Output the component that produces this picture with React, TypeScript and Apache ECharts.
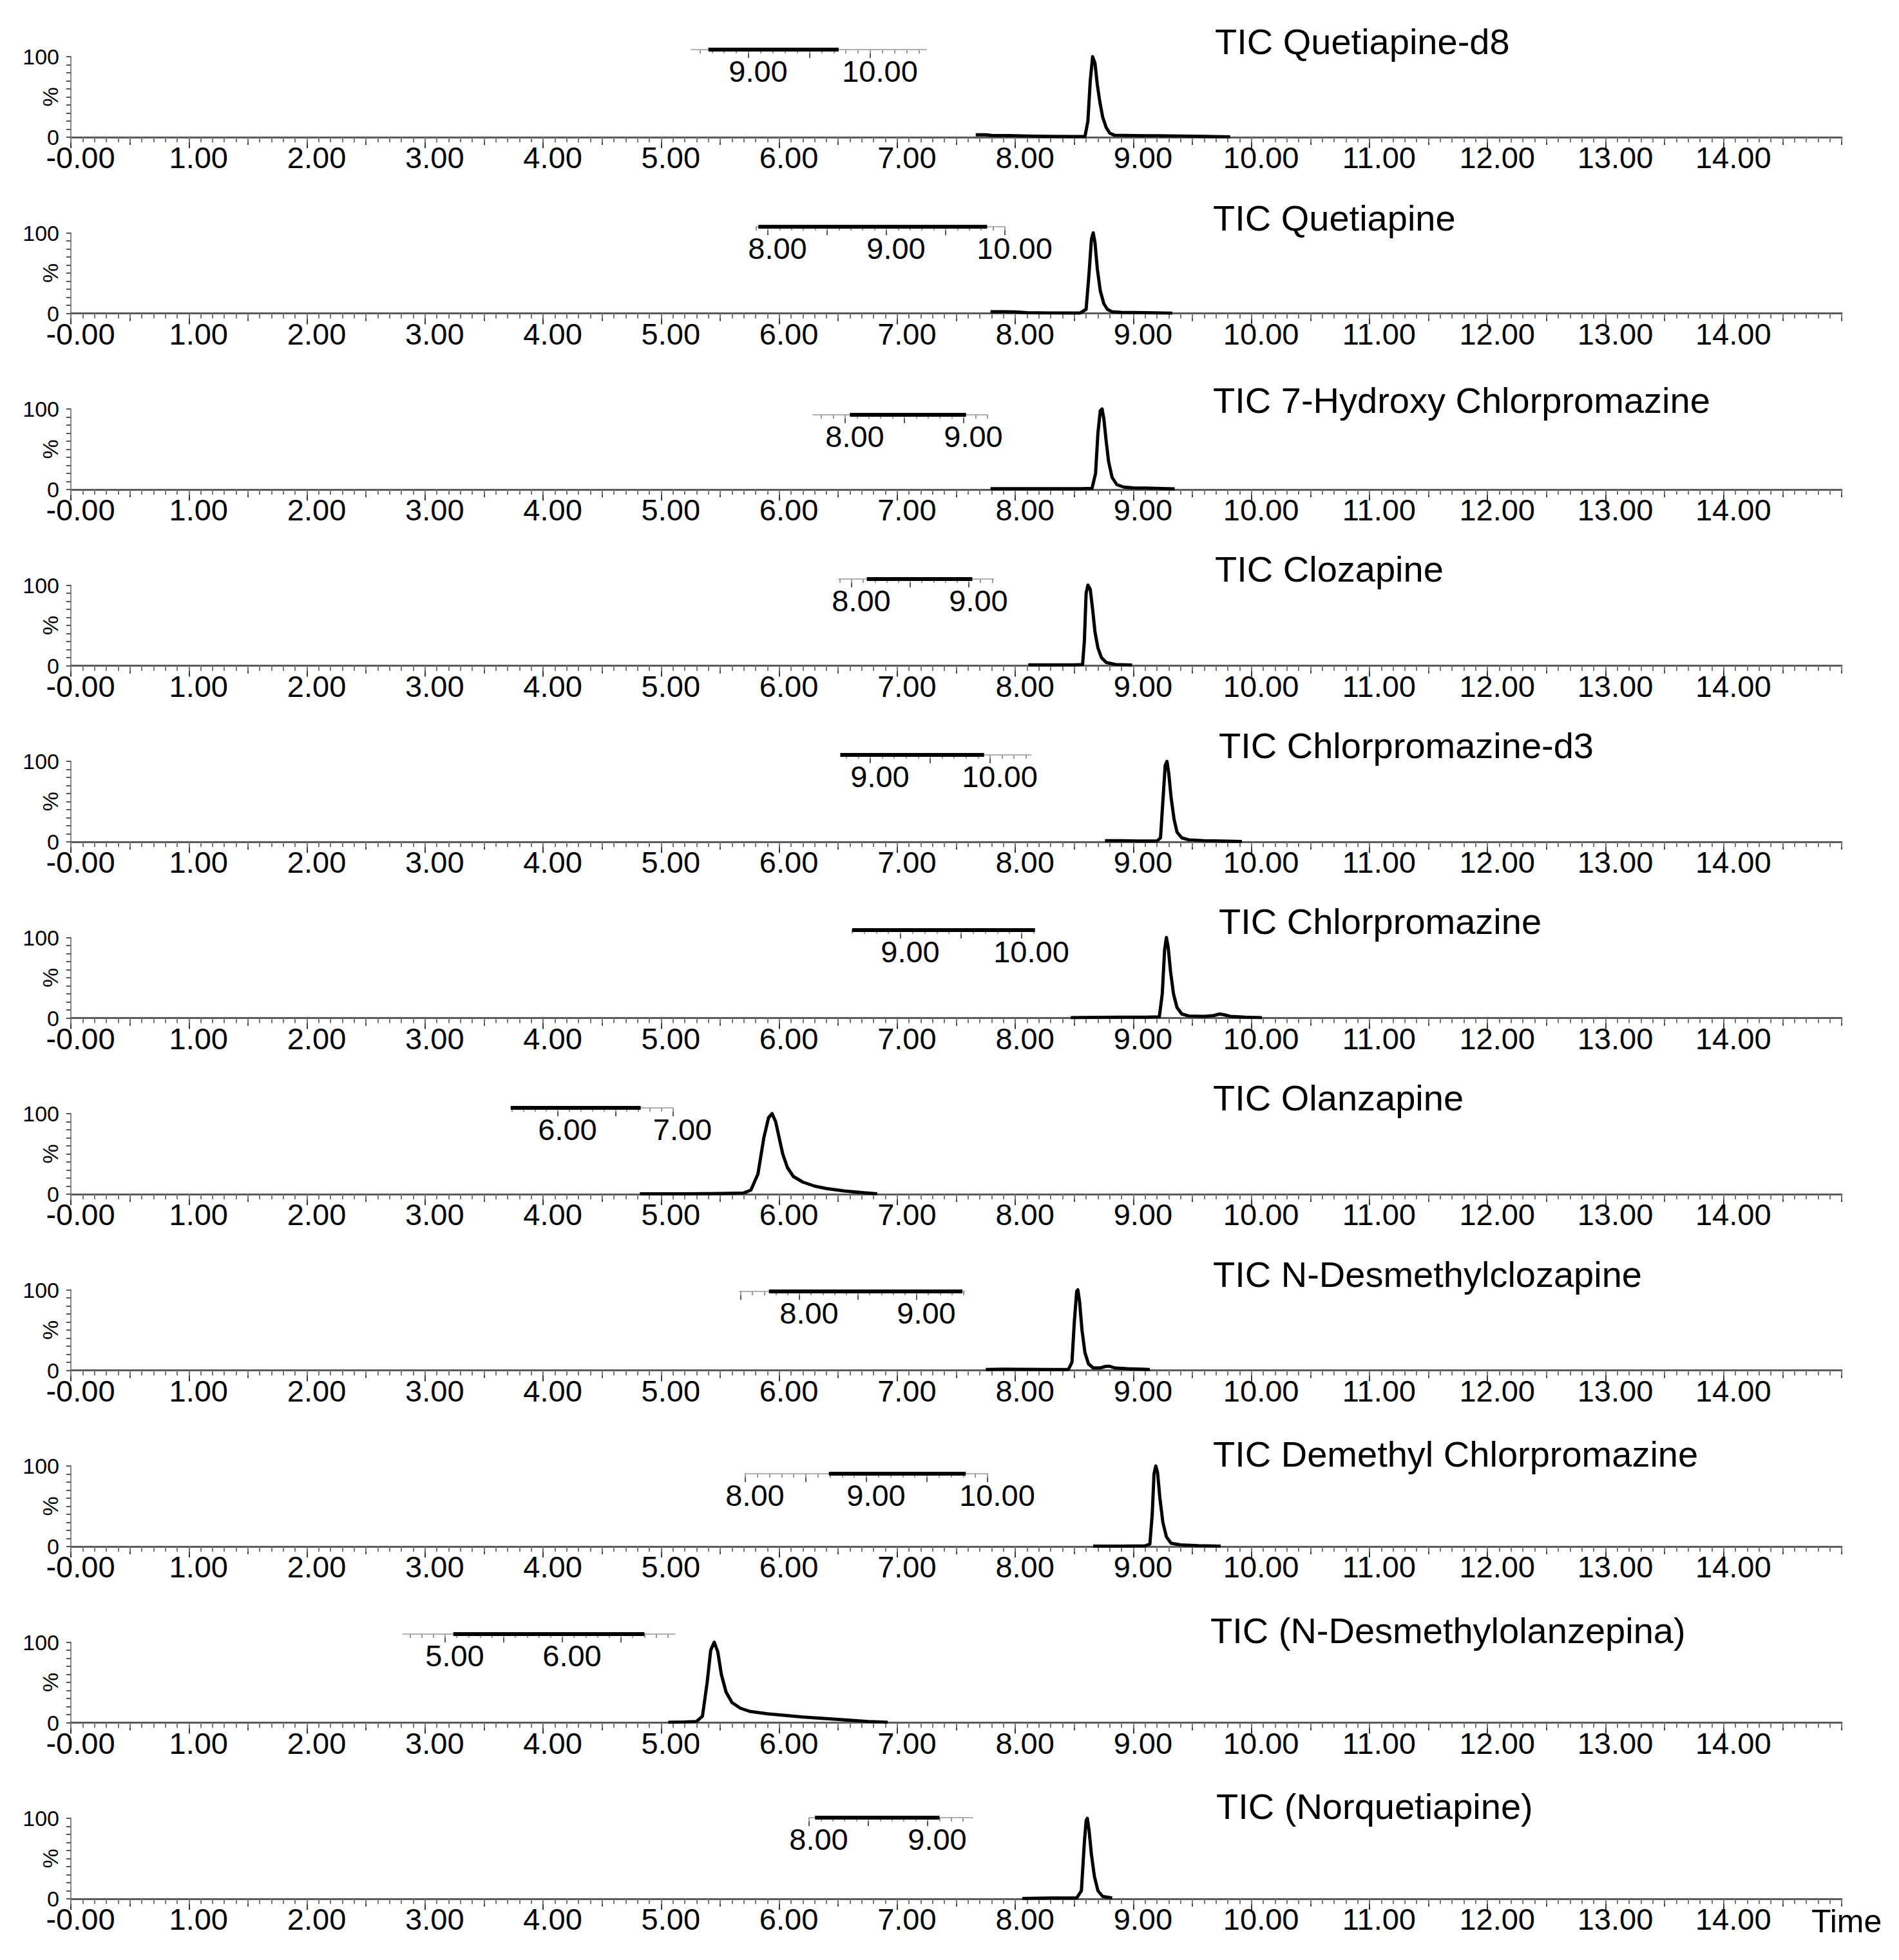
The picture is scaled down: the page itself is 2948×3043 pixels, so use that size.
import React, { useEffect, useRef } from "react";
import * as echarts from "echarts";

const W = 2948;
const H = 3043;
const FONT = "'Liberation Sans', Arial, sans-serif";

// ---- titles ----
const panelTitles = [
  "TIC Quetiapine-d8",
  "TIC Quetiapine",
  "TIC 7-Hydroxy Chlorpromazine",
  "TIC Clozapine",
  "TIC Chlorpromazine-d3",
  "TIC Chlorpromazine",
  "TIC Olanzapine",
  "TIC N-Desmethylclozapine",
  "TIC Demethyl Chlorpromazine",
  "TIC (N-Desmethylolanzepina)",
  "TIC (Norquetiapine)",
];

// ---- traces: [time (min), relative intensity (%)] ----
const quetiapineD8 = [[7.665,3],[7.75,3],[7.8,2.2],[7.95,2],[8.1,1.5],[8.3,1],[8.5,0.8],[8.59,0.8],[8.615,20],[8.635,70],[8.655,100],[8.675,92],[8.695,65],[8.715,45],[8.74,25],[8.77,12],[8.8,5],[8.84,2.5],[9.0,2],[9.2,1.8],[9.4,1.5],[9.6,1],[9.82,0.5]];
const quetiapine = [[7.79,2],[7.9,2],[8.0,1.8],[8.1,0.8],[8.3,0.5],[8.55,0.5],[8.6,5],[8.625,50],[8.645,92],[8.66,100],[8.675,88],[8.695,55],[8.72,28],[8.75,12],[8.78,5],[8.82,2],[8.9,1.2],[9.1,0.8],[9.33,0.3]];
const hydroxyChlorpromazine = [[7.79,1],[8.0,1],[8.3,1],[8.55,1],[8.65,1.5],[8.68,20],[8.7,70],[8.72,98],[8.735,100],[8.75,88],[8.77,60],[8.79,35],[8.82,15],[8.86,6],[8.92,3],[9.0,2],[9.2,1.5],[9.35,0.8]];
const clozapine = [[8.11,1],[8.3,1],[8.5,1],[8.57,1.5],[8.585,30],[8.6,90],[8.615,100],[8.635,95],[8.655,70],[8.675,42],[8.7,22],[8.73,10],[8.77,4],[8.85,1.5],[8.99,0.8]];
const chlorpromazineD3 = [[8.76,1.5],[8.9,1.5],[9.05,1],[9.2,1],[9.23,5],[9.25,50],[9.27,95],[9.285,100],[9.3,85],[9.32,55],[9.345,28],[9.37,12],[9.41,5],[9.47,2.5],[9.6,1.5],[9.75,1],[9.92,0.5]];
const chlorpromazine = [[8.47,0.5],[8.7,0.8],[8.9,1],[9.1,1],[9.22,1.5],[9.245,30],[9.265,85],[9.28,100],[9.295,88],[9.315,58],[9.34,30],[9.37,13],[9.41,5],[9.47,2.5],[9.6,2],[9.68,3],[9.73,5],[9.77,4],[9.82,2],[9.95,1],[10.09,0.5]];
const olanzapine = [[4.82,0.5],[5.2,0.5],[5.5,0.8],[5.7,1.5],[5.76,5],[5.82,25],[5.87,70],[5.91,95],[5.94,100],[5.97,90],[6.0,70],[6.03,50],[6.07,33],[6.12,22],[6.2,15],[6.3,10],[6.4,7],[6.55,4],[6.7,2],[6.83,0.5]];
const nDesmethylclozapine = [[7.75,1],[7.9,1.5],[8.1,1.2],[8.3,1],[8.45,1],[8.48,10],[8.5,60],[8.52,98],[8.53,100],[8.545,85],[8.565,50],[8.59,22],[8.62,8],[8.66,3],[8.72,3],[8.77,5],[8.8,5],[8.84,3],[8.95,2],[9.14,1]];
const demethylChlorpromazine = [[8.66,0.5],[8.9,0.5],[9.1,0.8],[9.14,3],[9.16,40],[9.175,90],[9.19,100],[9.205,92],[9.225,60],[9.25,30],[9.28,12],[9.32,4],[9.4,2],[9.55,1],[9.74,0.5]];
const nDesmethylolanzapine = [[5.06,0.5],[5.2,0.8],[5.3,1.5],[5.35,8],[5.39,50],[5.42,90],[5.45,100],[5.48,88],[5.51,60],[5.55,38],[5.6,25],[5.67,18],[5.75,14],[5.9,11],[6.05,9],[6.2,7],[6.4,5],[6.6,3],[6.75,1.5],[6.92,0.5]];
const norquetiapine = [[8.06,0.5],[8.3,1],[8.52,1],[8.56,10],[8.585,70],[8.6,97],[8.61,100],[8.625,85],[8.645,55],[8.67,28],[8.7,10],[8.74,3],[8.82,1]];

const traces = [
  quetiapineD8, quetiapine, hydroxyChlorpromazine, clozapine, chlorpromazineD3,
  chlorpromazine, olanzapine, nDesmethylclozapine, demethylChlorpromazine,
  nDesmethylolanzapine, norquetiapine,
];

// ---- main axis values ----
const timeMin = 0;
const timeMax = 15;
const pctMin = 0;
const pctMax = 100;

// ---- inset (zoomed time strip) values: axis range and dark trace range ----
const insetRanges = [
  [8.53, 10.46], [7.9, 10.0], [7.73, 9.2], [7.89, 9.21], [8.75, 10.34], [8.6, 10.11],
  [5.59, 7.0], [7.49, 9.41], [8.0, 10.0], [4.64, 6.96], [8.0, 9.38],
];
const insetDark = [
  [8.67, 9.74], [7.92, 9.85], [8.04, 9.02], [8.13, 9.03], [8.75, 9.95], [8.6, 10.11],
  [5.59, 6.72], [7.74, 9.39], [8.69, 9.82], [5.07, 6.7], [8.05, 9.1],
];

// ---- layout (pixels) ----
const GRID_LEFT = 110;
const GRID_RIGHT_PX = 2859;
const BASE0 = 213;
const STEP = 273.5;
const PANEL_H = 125;
// inset: reference value, pixel of that value, px per minute, line y
const insetLayout = [
  { ref: 9, px: 1162, scale: 189, y: 77 },
  { ref: 8, px: 1192, scale: 184, y: 352 },
  { ref: 8, px: 1312, scale: 184, y: 644 },
  { ref: 8, px: 1322, scale: 182, y: 899 },
  { ref: 9, px: 1351, scale: 186, y: 1172 },
  { ref: 9, px: 1398, scale: 188, y: 1444 },
  { ref: 6, px: 866, scale: 178.5, y: 1720 },
  { ref: 8, px: 1241, scale: 182, y: 2005 },
  { ref: 8, px: 1157, scale: 188, y: 2288 },
  { ref: 5, px: 691, scale: 182, y: 2537 },
  { ref: 8, px: 1256, scale: 184, y: 2822 },
];
const titleLayout = [
  [1886, 64], [1883, 338], [1883, 621], [1886, 883], [1892, 1157], [1892, 1430],
  [1883, 1704], [1883, 1978], [1883, 2257], [1879, 2531], [1888, 2804],
];

const fmtTime = (v: number) => (Math.abs(v) < 1e-9 ? "-0.00" : v.toFixed(2));

function stepValues(min: number, max: number, step: number) {
  const out: number[] = [];
  const a = Math.ceil(min / step - 1e-9);
  const b = Math.floor(max / step + 1e-9);
  for (let k = a; k <= b; k++) out.push(+(k * step).toFixed(4));
  return out;
}

function buildOption() {
  const grid: any[] = [];
  const xAxis: any[] = [];
  const yAxis: any[] = [];
  const series: any[] = [];
  const title: any[] = [];
  const n = traces.length;

  const labelStyle = {
    fontSize: 47,
    fontFamily: FONT,
    color: "#000",
    margin: 8,
    padding: [0, 0, 0, 30],
  };

  for (let i = 0; i < n; i++) {
    const base = BASE0 + i * STEP;
    grid.push({
      left: GRID_LEFT,
      width: GRID_RIGHT_PX - GRID_LEFT,
      top: base - PANEL_H,
      height: PANEL_H,
      containLabel: false,
      outerBoundsMode: "none",
    });
    // major axis with labels
    xAxis.push({
      type: "value", gridIndex: i, min: timeMin, max: timeMax, interval: 1, position: "bottom",
      axisLine: { show: true, onZero: false, lineStyle: { color: "#5a5a5a", width: 3 } },
      axisTick: { show: true, length: 17, lineStyle: { color: "#333", width: 2 } },
      axisLabel: { show: true, interval: 0, showMaxLabel: false, showMinLabel: true, hideOverlap: false, formatter: fmtTime, ...labelStyle },
      splitLine: { show: false },
    });
    // half ticks
    xAxis.push({
      type: "value", gridIndex: i, min: timeMin, max: timeMax, interval: 0.5, position: "bottom",
      axisLine: { show: false },
      axisTick: { show: true, length: 12, lineStyle: { color: "#444", width: 2 } },
      axisLabel: { show: false },
      splitLine: { show: false },
    });
    // minor ticks
    xAxis.push({
      type: "value", gridIndex: i, min: timeMin, max: timeMax, interval: 0.1, position: "bottom",
      axisLine: { show: false },
      axisTick: { show: true, length: 8, lineStyle: { color: "#777", width: 2 } },
      axisLabel: { show: false },
      splitLine: { show: false },
    });
    yAxis.push({
      type: "value", gridIndex: i, min: pctMin, max: pctMax, interval: 10,
      axisLine: { show: true, lineStyle: { color: "#888", width: 2 } },
      axisTick: { show: true, length: 7, lineStyle: { color: "#555", width: 2 } },
      axisLabel: {
        show: true,
        formatter: (v: number) => (v === 0 || v === 100 ? String(v) : ""),
        fontSize: 34, fontFamily: FONT, color: "#000", margin: 18,
      },
      splitLine: { show: false },
      name: "%", nameLocation: "middle", nameRotate: 90, nameGap: 15,
      nameMoveOverlap: false,
      nameTextStyle: { fontSize: 34, fontFamily: FONT, color: "#000" },
    });
    series.push({
      type: "line", xAxisIndex: 3 * i, yAxisIndex: i, data: traces[i],
      showSymbol: false, symbol: "none", clip: false, silent: true,
      lineStyle: { color: "#000", width: 5, join: "round" },
    });
    title.push({
      text: panelTitles[i], left: titleLayout[i][0], top: titleLayout[i][1] - 28, padding: 0,
      textStyle: { fontSize: 56, fontWeight: "normal", fontFamily: FONT, color: "#000", lineHeight: 56 },
    });
  }

  // insets
  for (let k = 0; k < n; k++) {
    const [mn, mx] = insetRanges[k];
    const L = insetLayout[k];
    const left = L.px + (mn - L.ref) * L.scale;
    const width = (mx - mn) * L.scale;
    const gi = n + k;
    grid.push({ left, width, top: L.y - 10, height: 10, containLabel: false, outerBoundsMode: "none" });
    const axisIdx = xAxis.length;
    xAxis.push({
      type: "value", gridIndex: gi, min: mn, max: mx, position: "bottom",
      axisLine: { show: true, onZero: false, lineStyle: { color: "#b0b0b0", width: 2 } },
      axisTick: { show: true, customValues: stepValues(mn, mx, 0.5), length: 13, lineStyle: { color: "#555", width: 2 } },
      axisLabel: { show: true, customValues: stepValues(mn, mx, 1), formatter: fmtTime, ...labelStyle, margin: 10 },
      splitLine: { show: false },
    });
    xAxis.push({
      type: "value", gridIndex: gi, min: mn, max: mx, position: "bottom",
      axisLine: { show: false },
      axisTick: { show: true, customValues: stepValues(mn, mx, 0.1), length: 6, lineStyle: { color: "#999", width: 2 } },
      axisLabel: { show: false },
      splitLine: { show: false },
    });
    yAxis.push({ type: "value", gridIndex: gi, min: 0, max: 1, show: false });
    series.push({
      type: "line", xAxisIndex: axisIdx, yAxisIndex: gi,
      data: [[insetDark[k][0], 0], [insetDark[k][1], 0]],
      showSymbol: false, symbol: "none", clip: false, silent: true,
      lineStyle: { color: "#000", width: 6 },
    });
  }

  title.push({
    text: "Time", left: 2812, top: 2983 - 26, padding: 0,
    textStyle: { fontSize: 50, fontWeight: "normal", fontFamily: FONT, color: "#000", lineHeight: 52 },
  });

  return {
    animation: false,
    backgroundColor: "#fff",
    title, grid, xAxis, yAxis, series,
  };
}

export default function App() {
  const ref = useRef<HTMLDivElement>(null);
  useEffect(() => {
    if (!ref.current) return;
    const chart = echarts.init(ref.current, null, { renderer: "svg", width: W, height: H });
    chart.setOption(buildOption() as any);
    return () => chart.dispose();
  }, []);
  return (
    <div
      ref={ref}
      style={{ position: "absolute", left: 0, top: 0, width: W, height: H, background: "#fff" }}
    />
  );
}
